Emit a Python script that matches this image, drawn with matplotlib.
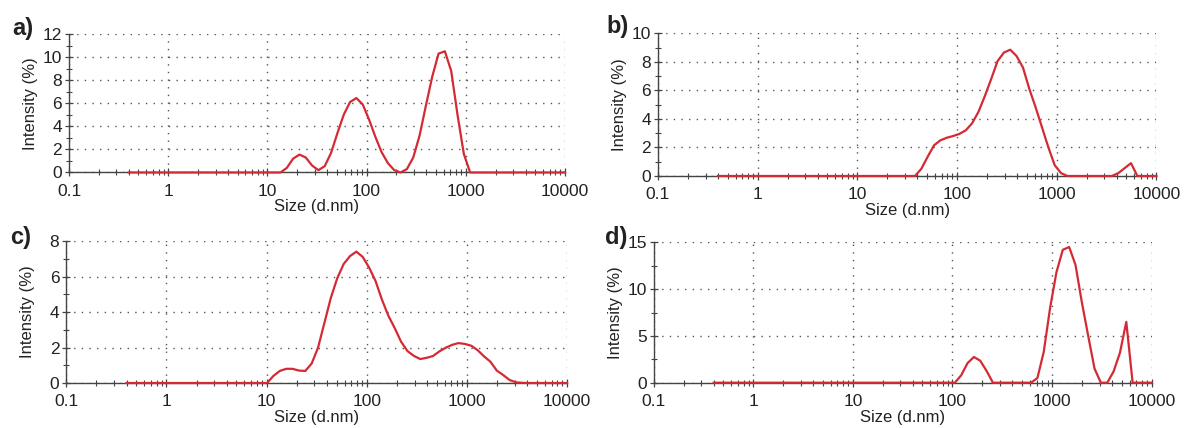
import matplotlib
matplotlib.use('Agg')
import matplotlib.pyplot as plt
from matplotlib.ticker import FixedLocator, MultipleLocator

plt.rcParams['font.family'] = ['Liberation Sans', 'DejaVu Sans']

# size bins (d.nm) of the DLS distribution
sizes = [0.4, 0.4632, 0.5365, 0.6213, 0.7195, 0.8332, 0.9649, 1.117, 1.294, 1.499,
         1.736, 2.01, 2.328, 2.696, 3.122, 3.615, 4.187, 4.849, 5.615, 6.503,
         7.531, 8.721, 10.1, 11.7, 13.54, 15.69, 18.17, 21.04, 24.36, 28.21,
         32.67, 37.84, 43.82, 50.75, 58.77, 68.06, 78.82, 91.28, 105.7, 122.4,
         141.8, 164.2, 190.1, 220.2, 255.0, 295.3, 342.0, 396.1, 458.7, 531.2,
         615.1, 712.4, 825.0, 955.4, 1106, 1281, 1484, 1718, 1990, 2305,
         2669, 3091, 3580, 4145, 4801, 5560, 6439, 7456, 8635, 10000]

# intensity (%) per bin, one list per panel
intensity_a = [0] * 25 + [0.4, 1.2, 1.55, 1.3, 0.6, 0.2, 0.55, 1.7, 3.4, 5.0,
                          6.1, 6.45, 5.9, 4.6, 3.1, 1.75, 0.8, 0.2, 0.0, 0.3,
                          1.3, 3.2, 5.8, 8.3, 10.3, 10.5, 8.8, 5.0, 1.6] + [0] * 16
intensity_b = [0] * 32 + [0.5, 1.35, 2.15, 2.5, 2.68, 2.8, 2.95, 3.2, 3.7, 4.5,
                          5.6, 6.8, 8.05, 8.65, 8.85, 8.4, 7.6, 6.1, 4.8, 3.4,
                          2.0, 0.75, 0.2] + [0] * 8 + [0.2, 0.55, 0.9] + [0] * 4
intensity_c = [0] * 23 + [0.4, 0.68, 0.8, 0.8, 0.7, 0.68, 1.1, 2.0, 3.4, 4.8,
                          5.9, 6.7, 7.15, 7.4, 7.1, 6.5, 5.75, 4.7, 3.8, 3.1,
                          2.33, 1.8, 1.53, 1.35, 1.42, 1.52, 1.78, 1.99, 2.15, 2.25,
                          2.2, 2.1, 1.85, 1.5, 1.2, 0.7, 0.45, 0.17, 0.04, 0.01] + [0] * 7
intensity_d = [0] * 39 + [0.8, 2.1, 2.75, 2.35, 1.25, 0] + [0] * 6 + \
              [0.5, 3.3, 8.0, 11.8, 14.2, 14.5, 12.6, 8.6, 5.0, 1.5] + \
              [0, 0, 1.2, 3.2, 6.5] + [0] * 4

x_ticks = [0.1, 1, 10, 100, 1000, 10000]
x_ticklabels = ['0.1', '1', '10', '100', '1000', '10000']

panels = [
    # label, data, ymax, ymajor, axes rect (left, bottom, width, height), label pos
    ('a)', intensity_a, 12, 2, [0.0583, 0.597, 0.4189, 0.3236], (12, 17)),
    ('b)', intensity_b, 10, 2, [0.5557, 0.5888, 0.4210, 0.3334], (606, 15)),
    ('c)', intensity_c, 8, 2, [0.0560, 0.1051, 0.4229, 0.3318], (10, 226)),
    ('d)', intensity_d, 15, 5, [0.5521, 0.1058, 0.4206, 0.3280], (605, 226)),
]

fig = plt.figure(figsize=(11.84, 4.28), dpi=100)

for label, vals, ymax, ymaj, rect, lpos in panels:
    ax = fig.add_axes(rect)
    ax.plot(sizes, vals, color='#d42a34', lw=1.6, zorder=4, clip_on=False)
    ax.set_xscale('log')
    ax.set_xlim(0.1, 10000)
    ax.set_ylim(0, ymax)
    ax.xaxis.set_major_locator(FixedLocator(x_ticks))
    ax.set_xticklabels(x_ticklabels)
    ax.yaxis.set_major_locator(MultipleLocator(ymaj))
    ax.yaxis.set_minor_locator(MultipleLocator(ymaj / 2))

    for s in ['top', 'right']:
        ax.spines[s].set_visible(False)
    for s in ['left', 'bottom']:
        ax.spines[s].set_color('#444444')
        ax.spines[s].set_linewidth(1.0)

    ax.grid(which='major', linestyle=(0, (1, 4.5)), color='#555555', lw=1.0)
    ax.tick_params(which='both', direction='inout', color='#444444',
                   top=False, right=False, labelsize=12.5, labelcolor='#222222')
    ax.tick_params(axis='x', which='major', length=6, width=0.9, pad=5)
    ax.tick_params(axis='x', which='minor', length=5, width=0.8)
    ax.tick_params(axis='y', which='major', length=6, width=0.9, pad=2)
    ax.tick_params(axis='y', which='minor', length=5, width=0.8)

    ax.set_xlabel('Size (d.nm)', fontsize=12, color='#222222')
    ax.set_ylabel('Intensity (%)', fontsize=12, color='#222222')
    w_px = rect[2] * 1184
    h_px = rect[3] * 428
    ax.yaxis.set_label_coords(-31 / w_px, 0.5)
    ax.xaxis.set_label_coords(0.5, -27 / h_px)

    fig.text(lpos[0] / 1184, 1 - lpos[1] / 428, label, fontsize=17,
             fontweight='bold', ha='left', va='top', color='#222222')

fig.savefig('out.png', dpi=100)
